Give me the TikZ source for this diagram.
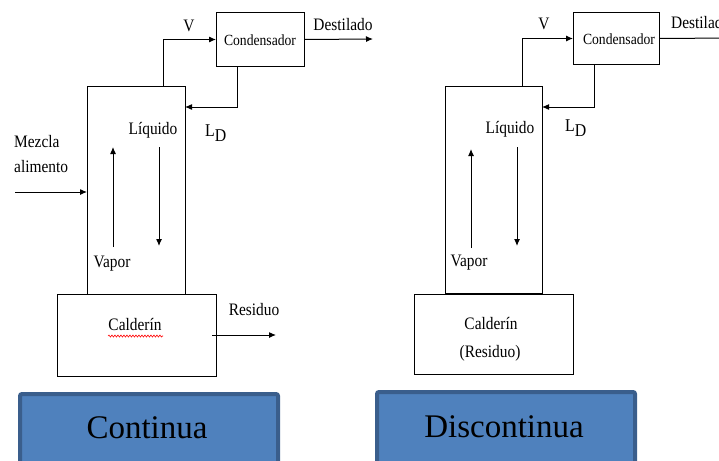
\documentclass[tikz,border=0pt]{standalone}
\usepackage{fontspec}
\setmainfont{Liberation Serif}
\newfontfamily\condserif[FakeStretch=0.88]{Liberation Serif}
\usetikzlibrary{arrows.meta,decorations.pathmorphing}
\definecolor{bfill}{HTML}{4F81BD}
\definecolor{bdark}{HTML}{3A5E8C}
\begin{document}
\begin{tikzpicture}[x=1pt,y=-1pt,
  lbl/.style={font=\condserif\fontsize{17.5}{20}\selectfont, inner sep=0},
  slbl/.style={font=\condserif\fontsize{15.5}{18}\selectfont, inner sep=0},
  ldlbl/.style={font=\condserif\fontsize{18}{21}\selectfont, inner sep=0, anchor=base west},
  blk/.style={draw, line width=1pt, inner sep=0, anchor=north west},
  arr/.style={line width=1pt, -{Latex[length=7pt,width=6pt]}},
  bluebox/.style={draw=bdark, fill=bfill, line width=4pt, rounded corners=2pt, inner sep=0, anchor=north west},
  bigtxt/.style={font=\fontsize{33}{38}\selectfont, inner sep=0}]
\useasboundingbox (0,0) rectangle (719,460);
\clip (0,0) rectangle (719,460);

% ---------- Continua ----------
\node[blk, minimum width=88pt, minimum height=54pt] (cond1) at (216,12) {};
\node[slbl] (cond1t) at (260,40) {Condensador};
\node[blk, minimum width=98pt, minimum height=208pt] (col1) at (87,86) {};
\node[blk, fill=white, minimum width=159pt, minimum height=82pt] (cald1) at (57,294) {};
\node[lbl] (cald1t) at (135,324) {Calderín};
\draw[red, line width=0.6pt, decorate, decoration={snake, amplitude=1pt, segment length=3pt}] (108,336) -- (163,336);

\coordinate (v1) at (163,86);
\draw[arr] (v1) |- (cond1.west);
\node[lbl] (v1t) at (189,26) {V};
\coordinate (d1) at (373,39);
\draw[arr] (cond1.east) -- (d1);
\node[lbl] (d1t) at (343,25) {Destilado};
\coordinate (ld1) at (237,66);
\coordinate (ld1e) at (185,107);
\draw[arr] (ld1) |- (ld1e);
\node[ldlbl] (ld1t) at (205,136) {L\raisebox{-5pt}{D}};
\node[lbl] (liq1) at (153,130) {Líquido};
\node[lbl, anchor=west] (mez1) at (14,142) {Mezcla};
\node[lbl, anchor=west] (ali1) at (14,167) {alimento};
\coordinate (f1) at (15,192);
\draw[arr] (f1) -- (col1.west |- f1);
\coordinate (vu1a) at (113,247);
\coordinate (vu1b) at (113,147);
\draw[arr] (vu1a) -- (vu1b);
\coordinate (ld1a) at (159,147);
\coordinate (ld1b) at (159,246);
\draw[arr] (ld1a) -- (ld1b);
\node[lbl] (vap1) at (112,264) {Vapor};
\coordinate (r1a) at (212,335);
\coordinate (r1b) at (276,335);
\draw[arr] (r1a) -- (r1b);
\node[lbl] (res1) at (254,310) {Residuo};

\node[bluebox, minimum width=258pt, minimum height=80pt] (b1) at (18,392) {};
\node[bigtxt] (b1t) at (147,428) {Continua};

% ---------- Discontinua ----------
\node[blk, minimum width=86pt, minimum height=52pt] (cond2) at (573,12) {};
\node[slbl] (cond2t) at (619,39) {Condensador};
\node[blk, minimum width=97pt, minimum height=207pt] (col2) at (445,86) {};
\node[blk, fill=white, minimum width=159pt, minimum height=80pt] (cald2) at (414,294) {};
\node[lbl] (cald2t) at (491,323) {Calderín};
\node[lbl] (cald2r) at (490,353) {(Residuo)};

\coordinate (v2) at (522,86);
\draw[arr] (v2) |- (cond2.west);
\node[lbl] (v2t) at (544,24) {V};
\coordinate (d2) at (730,38);
\draw[line width=1pt] (cond2.east) -- (d2);
\node[lbl, anchor=west] (d2t) at (671,23) {Destilado};
\coordinate (ld2) at (594,64);
\coordinate (ld2e) at (542,107);
\draw[arr] (ld2) |- (ld2e);
\node[ldlbl] (ld2t) at (565,131) {L\raisebox{-5pt}{D}};
\node[lbl] (liq2) at (510,129) {Líquido};
\coordinate (vu2a) at (471,248);
\coordinate (vu2b) at (471,149);
\draw[arr] (vu2a) -- (vu2b);
\coordinate (ld2a) at (517,147);
\coordinate (ld2b) at (517,246);
\draw[arr] (ld2a) -- (ld2b);
\node[lbl] (vap2) at (469,263) {Vapor};

\node[bluebox, minimum width=258pt, minimum height=80pt] (b2) at (375,390) {};
\node[bigtxt] (b2t) at (504,427) {Discontinua};
\end{tikzpicture}
\end{document}
